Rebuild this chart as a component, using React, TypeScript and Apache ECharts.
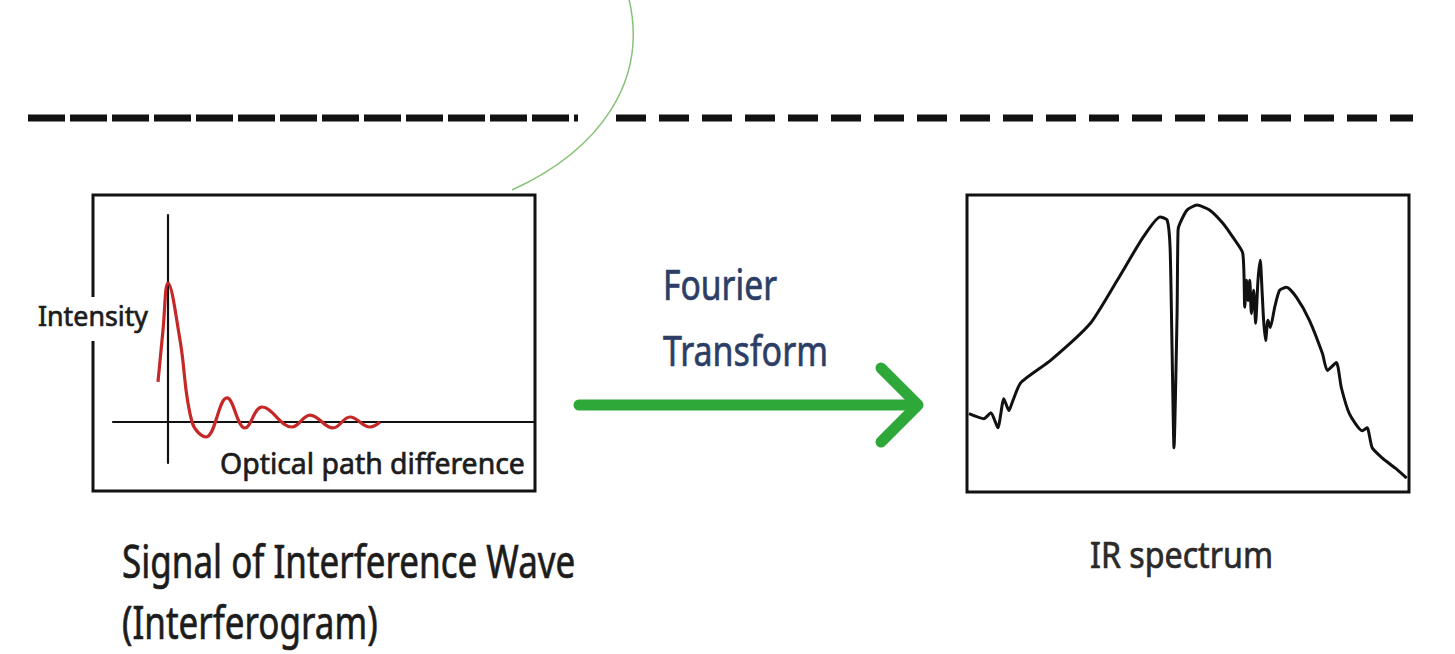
import React, { useEffect, useRef } from "react";
import * as echarts from "echarts";

// Interferogram (left panel): optical path difference vs. intensity
const INTERF_OPD = [-0.25, -0.125, 0, 0.3, 0.6, 0.95, 1.475, 1.925, 2.35, 3.1, 3.55, 4.125, 4.55, 5.05, 5.3];
const INTERF_INTENSITY = [0.288, 0.66, 1.0, 0.59, 0.0, -0.108, 0.173, -0.043, 0.108, -0.036, 0.05, -0.043, 0.036, -0.036, 0.0];

// IR spectrum (right panel): wavenumber (cm-1) vs. single-beam intensity
const SPEC_WN = [
  3984, 3862, 3805, 3749, 3700, 3659, 3627, 3562, 3319, 2995, 2776, 2565, 2427, 2370, 2346, 2330, 2314,
  2289, 2281, 2265, 2208, 2127, 2022, 1916, 1835, 1754, 1738, 1724, 1711, 1697, 1684, 1665, 1649, 1630,
  1611, 1597, 1584, 1568, 1549, 1529, 1494, 1454, 1397, 1316, 1211, 1105, 1065, 992, 951, 886, 781, 741,
  700, 619, 514, 419,
];
const SPEC_INT = [
  0.264, 0.247, 0.267, 0.216, 0.314, 0.274, 0.307, 0.368, 0.443, 0.568, 0.713, 0.858, 0.926, 0.916, 0.824,
  0.486, 0.149, 0.601, 0.882, 0.905, 0.949, 0.966, 0.949, 0.905, 0.858, 0.804, 0.622, 0.713, 0.645, 0.713,
  0.601, 0.679, 0.568, 0.713, 0.78, 0.679, 0.578, 0.51, 0.578, 0.554, 0.622, 0.679, 0.689, 0.655, 0.578,
  0.466, 0.409, 0.436, 0.351, 0.264, 0.206, 0.216, 0.149, 0.115, 0.081, 0.047,
];

const TXT_INTENSITY = "Intensity";
const TXT_OPD = "Optical path difference";
const TXT_FOURIER = "Fourier";
const TXT_TRANSFORM = "Transform";
const TXT_SIGNAL = "Signal of Interference Wave";
const TXT_INTERFEROGRAM = "(Interferogram)";
const TXT_IR = "IR spectrum";

const FAMILY = '"Noto Sans", "Open Sans", sans-serif';

function measure(text: string, fs: number): number {
  const ctx = document.createElement("canvas").getContext("2d");
  if (!ctx) return text.length * fs * 0.5;
  ctx.font = `${fs}px ${FAMILY}`;
  return ctx.measureText(text).width;
}

function label(text: string, left: number, capTop: number, baseline: number, width: number, fill: string) {
  const fs = (baseline - capTop) / 0.714;
  const w = measure(text, fs);
  return {
    type: "text",
    x: left,
    y: (capTop + baseline) / 2,
    scaleX: width / w,
    z: 20,
    style: {
      text, fontSize: fs, fontFamily: FAMILY, fill, stroke: fill, lineWidth: 0.7,
      align: "left", verticalAlign: "middle",
    },
  };
}

export default function App() {
  const ref = useRef<HTMLDivElement>(null);
  useEffect(() => {
    if (!ref.current) return;
    const chart = echarts.init(ref.current, undefined, { renderer: "svg" });
    const interfData = INTERF_OPD.map((x, i) => [x, INTERF_INTENSITY[i]]);
    const specData = SPEC_WN.map((x, i) => [x, SPEC_INT[i]]);
    const textColor = "#1c1c1c";
    const navy = "#2c3e66";
    const green = "#2fa83a";

    const sigFs = 32 / 0.714;
    const sigScale = 453 / measure(TXT_SIGNAL, sigFs);

    chart.setOption({
      animation: false,
      backgroundColor: "#ffffff",
      grid: [
        { left: 113, top: 215, width: 422, height: 248, show: false },
        { left: 967, top: 195, width: 442, height: 297, show: false },
      ],
      xAxis: [
        {
          type: "value", gridIndex: 0, min: -1.375, max: 9.175,
          axisLine: { show: true, onZero: true, lineStyle: { color: "#111", width: 2.2 } },
          axisTick: { show: false }, axisLabel: { show: false }, splitLine: { show: false },
        },
        { type: "value", gridIndex: 1, min: 400, max: 4000, inverse: true, show: false, splitLine: { show: false } },
      ],
      yAxis: [
        {
          type: "value", gridIndex: 0, min: -0.295, max: 1.489,
          axisLine: { show: true, onZero: true, lineStyle: { color: "#111", width: 2.2 } },
          axisTick: { show: false }, axisLabel: { show: false }, splitLine: { show: false },
        },
        { type: "value", gridIndex: 1, min: 0, max: 1, show: false, splitLine: { show: false } },
      ],
      series: [
        {
          type: "line", xAxisIndex: 0, yAxisIndex: 0, data: interfData, smooth: 0.4,
          showSymbol: false, lineStyle: { color: "#c62828", width: 3.2 }, z: 5,
        },
        {
          type: "line", xAxisIndex: 1, yAxisIndex: 1, data: specData, smooth: 0.2,
          showSymbol: false, lineStyle: { color: "#111", width: 3 }, z: 5,
        },
      ],
      graphic: [
        // dashed separator
        { type: "line", z: 1, shape: { x1: 28, y1: 118, x2: 578, y2: 118 }, style: { stroke: "#111", lineWidth: 7, lineDash: [37, 5] } },
        { type: "line", z: 1, shape: { x1: 616, y1: 118, x2: 1413, y2: 118 }, style: { stroke: "#111", lineWidth: 7, lineDash: [30, 13] } },
        // thin green curve
        {
          type: "bezierCurve", z: 2,
          shape: { x1: 628, y1: -5, cpx1: 650, cpy1: 80, cpx2: 600, cpy2: 150, x2: 512, y2: 190 },
          style: { stroke: "#86c278", lineWidth: 1.5, fill: null },
        },
        // boxes
        { type: "rect", z: 3, shape: { x: 93, y: 195, width: 442, height: 296 }, style: { fill: "rgba(0,0,0,0)", stroke: "#111", lineWidth: 3 } },
        { type: "rect", z: 3, shape: { x: 967, y: 195, width: 442, height: 297 }, style: { fill: "rgba(0,0,0,0)", stroke: "#111", lineWidth: 3 } },
        { type: "rect", z: 4, shape: { x: 86, y: 297, width: 14, height: 44 }, style: { fill: "#ffffff" } },
        // arrow
        {
          type: "polyline", z: 6, shape: { points: [[579, 405], [916, 405]] },
          style: { stroke: green, lineWidth: 11, lineCap: "round", fill: null },
        },
        {
          type: "polyline", z: 6, shape: { points: [[881, 368], [918, 405], [881, 442]] },
          style: { stroke: green, lineWidth: 11, lineCap: "round", lineJoin: "round", fill: null },
        },
        // texts
        label(TXT_INTENSITY, 38, 305, 325, 110, textColor),
        label(TXT_OPD, 220, 452, 473, 305, textColor),
        label(TXT_FOURIER, 663, 268, 298, 114, navy),
        label(TXT_TRANSFORM, 663, 335, 365, 165, navy),
        label(TXT_SIGNAL, 122, 545, 577, 453, textColor),
        {
          type: "text", x: 122, y: 622, scaleX: sigScale, z: 20,
          style: {
            text: TXT_INTERFEROGRAM, fontSize: sigFs, fontFamily: FAMILY, fill: textColor,
            stroke: textColor, lineWidth: 0.7, align: "left", verticalAlign: "middle",
          },
        },
        label(TXT_IR, 1090, 541, 567, 183, "#2a2a2a"),
      ],
    });
    return () => chart.dispose();
  }, []);
  return <div ref={ref} style={{ position: "fixed", left: 0, top: 0, width: 1455, height: 654 }} />;
}
